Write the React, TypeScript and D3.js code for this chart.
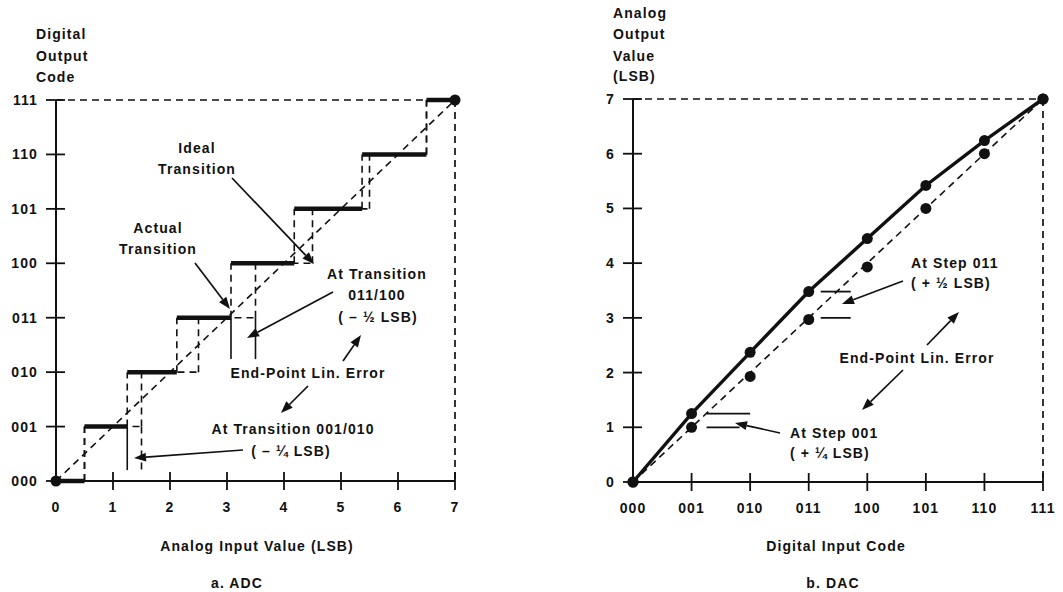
import React from 'react';
import * as d3 from 'd3';

// ---------- data ----------
const codeLabels = ['000', '001', '010', '011', '100', '101', '110', '111'];
const lsbTicks = [0, 1, 2, 3, 4, 5, 6, 7];
// ADC: input value (LSB) where output steps into the next code
const adcIdealTransitions = [0.5, 1.5, 2.5, 3.5, 4.5, 5.5, 6.5];
const adcActualTransitions = [0.5, 1.25, 2.12, 3.07, 4.18, 5.37, 6.5];
// DAC: analog output (LSB) for each digital input code
const dacActual = [0, 1.25, 2.37, 3.48, 4.45, 5.42, 6.24, 7];
const dacIdealPoints = [0, 1, 1.93, 2.97, 3.93, 5, 6, 7];

const FONT = 'Liberation Sans, Arial, Helvetica, sans-serif';
const INK = '#111';
const DASH = '7,5';

function Arrow({ x1, y1, x2, y2 }: { x1: number; y1: number; x2: number; y2: number }) {
  const a = Math.atan2(y2 - y1, x2 - x1);
  const L = 12, W = 4.5;
  const bx = x2 - L * Math.cos(a), by = y2 - L * Math.sin(a);
  const p1 = [bx + W * Math.sin(a), by - W * Math.cos(a)];
  const p2 = [bx - W * Math.sin(a), by + W * Math.cos(a)];
  return (
    <g>
      <line x1={x1} y1={y1} x2={bx} y2={by} stroke={INK} strokeWidth={1.7} />
      <polygon points={`${x2},${y2} ${p1[0]},${p1[1]} ${p2[0]},${p2[1]}`} fill={INK} />
    </g>
  );
}

function T({ x, y, children, anchor = 'start', size = 14 }: any) {
  return (
    <text x={x} y={y} textAnchor={anchor} fontFamily={FONT} fontSize={size}
      fontWeight="bold" letterSpacing={1.1} fill={INK}>
      {children}
    </text>
  );
}

function Axes({ x, y, yLabels, xLabels }: any) {
  const x0 = x(0), y0 = y(0);
  return (
    <g>
      <line x1={x0} y1={y(7)} x2={x0} y2={y0} stroke={INK} strokeWidth={2} />
      <line x1={x0} y1={y0} x2={x(7)} y2={y0} stroke={INK} strokeWidth={2} />
      {lsbTicks.map((v, i) => (
        <g key={'y' + i}>
          <line x1={x0 - 10} x2={x0 + 9} y1={y(v)} y2={y(v)} stroke={INK} strokeWidth={1.8} />
          <T x={x0 - 18} y={y(v) + 5} anchor="end">{yLabels[i]}</T>
        </g>
      ))}
      {lsbTicks.map((v, i) => (
        <g key={'x' + i}>
          {i > 0 && <line x1={x(v)} x2={x(v)} y1={y0 - 9} y2={y0 + 9} stroke={INK} strokeWidth={1.8} />}
          <T x={x(v)} y={y0 + 31} anchor="middle">{xLabels[i]}</T>
        </g>
      ))}
    </g>
  );
}

function ADC() {
  const x = d3.scaleLinear().domain([0, 7]).range([56, 455]);
  const y = d3.scaleLinear().domain([0, 7]).range([481, 100]);
  const actualStart = [0, ...adcActualTransitions];
  const actualEnd = [...adcActualTransitions, 7];
  const idealStart = [0, ...adcIdealTransitions];
  const idealEnd = [...adcIdealTransitions, 7];
  const diag = d3.line<number>().x(d => x(d)).y(d => y(d));
  return (
    <g>
      <Axes x={x} y={y} yLabels={codeLabels} xLabels={lsbTicks.map(String)} />
      {/* frame */}
      <line x1={x(0)} y1={y(7)} x2={x(7)} y2={y(7)} stroke={INK} strokeWidth={1.3} strokeDasharray={DASH} />
      <line x1={x(7)} y1={y(7)} x2={x(7)} y2={y(0)} stroke={INK} strokeWidth={1.7} strokeDasharray={DASH} />
      <path d={diag([0, 7]) || ''} stroke={INK} strokeWidth={1.6} strokeDasharray={DASH} fill="none" />
      {/* ideal staircase */}
      {lsbTicks.map(k => (
        <line key={'ih' + k} x1={x(idealStart[k])} x2={x(idealEnd[k])} y1={y(k)} y2={y(k)}
          stroke={INK} strokeWidth={1.6} strokeDasharray={DASH} />
      ))}
      {adcIdealTransitions.map((t, k) => (
        <line key={'iv' + k} x1={x(t)} x2={x(t)} y1={y(k)} y2={y(k + 1)}
          stroke={INK} strokeWidth={1.6} strokeDasharray={DASH} />
      ))}
      {/* actual staircase */}
      {adcActualTransitions.map((t, k) => (
        <line key={'av' + k} x1={x(t)} x2={x(t)} y1={y(k)} y2={y(k + 1)}
          stroke={INK} strokeWidth={1.6} strokeDasharray={DASH} />
      ))}
      {lsbTicks.map(k => (
        <line key={'ah' + k} x1={x(actualStart[k])} x2={x(actualEnd[k])} y1={y(k)} y2={y(k)}
          stroke={INK} strokeWidth={4.5} />
      ))}
      {/* dimension lines */}
      <line x1={x(adcActualTransitions[1])} x2={x(adcActualTransitions[1])} y1={y(1)} y2={y(0.2)} stroke={INK} strokeWidth={1.6} />
      <line x1={x(adcIdealTransitions[1])} x2={x(adcIdealTransitions[1])} y1={y(1)} y2={y(0.2)} stroke={INK} strokeWidth={1.6} strokeDasharray={DASH} />
      <line x1={x(adcActualTransitions[3])} x2={x(adcActualTransitions[3])} y1={y(3)} y2={y(2.24)} stroke={INK} strokeWidth={1.6} />
      <line x1={x(adcIdealTransitions[3])} x2={x(adcIdealTransitions[3])} y1={y(3)} y2={y(2.24)} stroke={INK} strokeWidth={1.6} />
      <circle cx={x(0)} cy={y(0)} r={5.5} fill={INK} />
      <circle cx={x(7)} cy={y(7)} r={5.5} fill={INK} />
      {/* annotations */}
      <T x={197} y={153} anchor="middle">Ideal</T>
      <T x={197} y={174} anchor="middle">Transition</T>
      <Arrow x1={232} y1={178} x2={314} y2={264} />
      <T x={158} y={233} anchor="middle">Actual</T>
      <T x={158} y={254} anchor="middle">Transition</T>
      <Arrow x1={195} y1={263} x2={230} y2={309} />
      <T x={327} y={279}>At Transition</T>
      <T x={377} y={300} anchor="middle">011/100</T>
      <T x={378} y={322} anchor="middle">( – ½ LSB)</T>
      <Arrow x1={333} y1={292} x2={247} y2={338} />
      <T x={308} y={378} anchor="middle">End-Point Lin. Error</T>
      <Arrow x1={343} y1={361} x2={361} y2={335} />
      <Arrow x1={308} y1={386} x2={281} y2={413} />
      <T x={293} y={434} anchor="middle">At Transition 001/010</T>
      <T x={291} y={456} anchor="middle">( – ¼ LSB)</T>
      <Arrow x1={243} y1={450} x2={134} y2={458} />
      {/* titles */}
      <T x={36} y={39}>Digital</T>
      <T x={36} y={61}>Output</T>
      <T x={36} y={82}>Code</T>
      <T x={257} y={551} anchor="middle">Analog Input Value (LSB)</T>
      <T x={237} y={588} anchor="middle">a. ADC</T>
    </g>
  );
}

function DAC() {
  const x = d3.scaleLinear().domain([0, 7]).range([633, 1043]);
  const y = d3.scaleLinear().domain([0, 7]).range([482, 99]);
  const idx = d3.range(codeLabels.length);
  const actualLine = d3.line<number>().x(i => x(i)).y(i => y(dacActual[i]));
  const diag = d3.line<number>().x(d => x(d)).y(d => y(d));
  return (
    <g>
      <Axes x={x} y={y} yLabels={lsbTicks.map(String)} xLabels={codeLabels} />
      <line x1={x(0)} y1={y(7)} x2={x(7)} y2={y(7)} stroke={INK} strokeWidth={1.3} strokeDasharray={DASH} />
      <line x1={x(7)} y1={y(7)} x2={x(7)} y2={y(0)} stroke={INK} strokeWidth={1.7} strokeDasharray={DASH} />
      <path d={diag([0, 7]) || ''} stroke={INK} strokeWidth={1.6} strokeDasharray={DASH} fill="none" />
      <path d={actualLine(idx) || ''} stroke={INK} strokeWidth={3.4} fill="none" />
      {idx.map(i => <circle key={'i' + i} cx={x(i)} cy={y(dacIdealPoints[i])} r={5.5} fill={INK} />)}
      {idx.map(i => <circle key={'a' + i} cx={x(i)} cy={y(dacActual[i])} r={5.5} fill={INK} />)}
      {/* error markers */}
      <line x1={x(1) + 15} x2={x(2)} y1={y(dacActual[1])} y2={y(dacActual[1])} stroke={INK} strokeWidth={1.8} />
      <line x1={x(1) + 15} x2={x(1) + 48} y1={y(1)} y2={y(1)} stroke={INK} strokeWidth={1.8} />
      <line x1={x(3) + 12} x2={x(3) + 42} y1={y(dacActual[3])} y2={y(dacActual[3])} stroke={INK} strokeWidth={1.8} />
      <line x1={x(3) + 12} x2={x(3) + 42} y1={y(3)} y2={y(3)} stroke={INK} strokeWidth={1.8} />
      {/* annotations */}
      <T x={790} y={438}>At Step 001</T>
      <T x={790} y={458}>( + ¼ LSB)</T>
      <Arrow x1={780} y1={433} x2={735} y2={423} />
      <T x={911} y={268}>At Step 011</T>
      <T x={911} y={288}>( + ½ LSB)</T>
      <Arrow x1={903} y1={281} x2={842} y2={304} />
      <T x={917} y={363} anchor="middle">End-Point Lin. Error</T>
      <Arrow x1={927} y1={345} x2={959} y2={312} />
      <Arrow x1={903} y1={370} x2={862} y2={410} />
      <T x={613} y={18}>Analog</T>
      <T x={613} y={39}>Output</T>
      <T x={613} y={61}>Value</T>
      <T x={613} y={81}>(LSB)</T>
      <T x={836} y={551} anchor="middle">Digital Input Code</T>
      <T x={833} y={588} anchor="middle">b. DAC</T>
    </g>
  );
}

export default function App() {
  return (
    <svg width={1063} height={592} style={{ position: 'absolute', left: 0, top: 0, background: '#fff' }}>
      <rect width={1063} height={592} fill="#fff" />
      <ADC />
      <DAC />
    </svg>
  );
}
